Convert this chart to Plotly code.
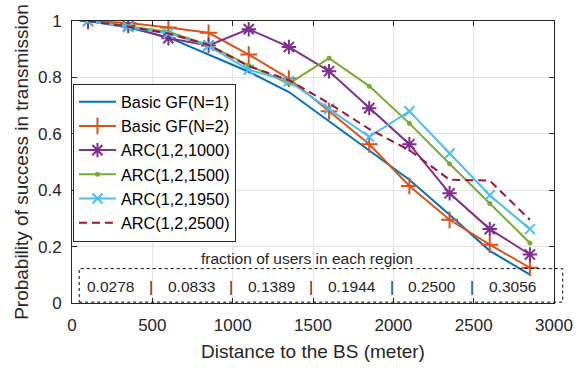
import plotly.graph_objects as go

# Distance to the base station (meter)
distance = [100, 350, 600, 850, 1100, 1350, 1600, 1850, 2100, 2350, 2600, 2850]

# Probability of success in transmission for each scheme
basic_gf_n1 = [1.0, 0.977, 0.942, 0.882, 0.820, 0.748, 0.644, 0.542, 0.437, 0.313, 0.185, 0.101]
basic_gf_n2 = [1.0, 0.993, 0.977, 0.958, 0.881, 0.796, 0.680, 0.563, 0.415, 0.295, 0.207, 0.125]
arc_1000 = [1.0, 0.982, 0.939, 0.913, 0.971, 0.908, 0.822, 0.691, 0.563, 0.389, 0.262, 0.172]
arc_1500 = [1.0, 0.980, 0.962, 0.915, 0.843, 0.778, 0.868, 0.769, 0.637, 0.494, 0.353, 0.213]
arc_1950 = [1.0, 0.979, 0.956, 0.912, 0.827, 0.787, 0.689, 0.589, 0.680, 0.530, 0.382, 0.262]
arc_2500 = [1.0, 0.980, 0.956, 0.915, 0.840, 0.790, 0.708, 0.617, 0.542, 0.437, 0.434, 0.295]

# Share of users falling in each 500 m ring
region_centers = [250, 750, 1250, 1750, 2250, 2750]
region_fraction = ["0.0278", "0.0833", "0.1389", "0.1944", "0.2500", "0.3056"]
region_bounds = [500, 1000, 1500, 2000, 2500]

x_ticks = [0, 500, 1000, 1500, 2000, 2500, 3000]
y_ticks = [0, 0.2, 0.4, 0.6, 0.8, 1.0]
y_tick_text = ["0", "0.2", "0.4", "0.6", "0.8", "1"]

FONT = "Liberation Sans, Arial, Helvetica, sans-serif"
INK = "#262626"

series = [
    ("Basic GF(N=1)", basic_gf_n1, "#0072BD", "solid", None, 0),
    ("Basic GF(N=2)", basic_gf_n2, "#D95319", "solid", "cross-thin-open", 12),
    ("ARC(1,2,1000)", arc_1000, "#7E2F8E", "solid", "asterisk-open", 12),
    ("ARC(1,2,1500)", arc_1500, "#77AC30", "solid", "circle", 3),
    ("ARC(1,2,1950)", arc_1950, "#4DBEEE", "solid", "x-thin-open", 10),
    ("ARC(1,2,2500)", arc_2500, "#A2142F", "8px,5px", None, 0),
]

fig = go.Figure()
for name, vals, color, dash, symbol, size in series:
    mode = "lines+markers" if symbol else "lines"
    marker = dict(symbol=symbol, size=size, color=color,
                  line=dict(color=color, width=2)) if symbol else None
    fig.add_trace(go.Scatter(
        x=distance, y=vals, name=name, mode=mode,
        line=dict(color=color, width=2, dash=dash),
        marker=marker,
    ))

# Region fraction labels along the bottom of the plot
annotations = [dict(
    x=1464, y=0.157, xref="x", yref="y", text="fraction of users in each region",
    showarrow=False, font=dict(family=FONT, size=15.5, color=INK),
    xanchor="center", yanchor="middle",
)]
for cx, frac in zip(region_centers, region_fraction):
    annotations.append(dict(
        x=cx - 8, y=0.06, xref="x", yref="y", text=frac, showarrow=False,
        font=dict(family=FONT, size=15.5, color=INK), xanchor="center", yanchor="middle",
    ))
for bx in region_bounds:
    annotations.append(dict(
        x=bx - 10, y=0.06, xref="x", yref="y", text="|", showarrow=False,
        font=dict(family=FONT, size=15.5, color=INK), xanchor="center", yanchor="middle",
    ))

fig.update_layout(
    width=585, height=371,
    margin=dict(l=72, r=22, t=19, b=66),
    paper_bgcolor="white", plot_bgcolor="white",
    font=dict(family=FONT, color=INK, size=17),
    showlegend=True,
    legend=dict(
        x=0.002, y=0.778, xanchor="left", yanchor="top",
        bgcolor="white", bordercolor=INK, borderwidth=1,
        font=dict(family=FONT, size=16.3, color="black"),
        tracegroupgap=0, itemwidth=37,
    ),
    annotations=annotations,
    shapes=[dict(
        type="rect", xref="paper", yref="paper",
        x0=0.0149, x1=1.018, y0=0.003, y1=0.122,
        line=dict(color="black", width=1, dash="dot"),
        fillcolor="rgba(0,0,0,0)", layer="above",
    )],
)

axis_common = dict(
    showline=True, linecolor=INK, linewidth=1, mirror="ticks",
    ticks="inside", ticklen=5, tickcolor=INK, tickwidth=1,
    showgrid=True, gridcolor="#e3e3e3", gridwidth=1,
    zeroline=False, tickfont=dict(family=FONT, size=17, color=INK),
)
fig.update_xaxes(
    range=[0, 3000], tickvals=x_ticks, ticktext=[str(v) for v in x_ticks],
    title=dict(text="Distance to the BS (meter)", font=dict(family=FONT, size=19, color=INK), standoff=10),
    ticklabelstandoff=7, **axis_common,
)
fig.update_yaxes(
    range=[0, 1], tickvals=y_ticks, ticktext=y_tick_text,
    title=dict(text="Probability of success in transmission", font=dict(family=FONT, size=19, color=INK), standoff=4),
    ticklabelstandoff=6, **axis_common,
)

fig.write_html("out.html")
